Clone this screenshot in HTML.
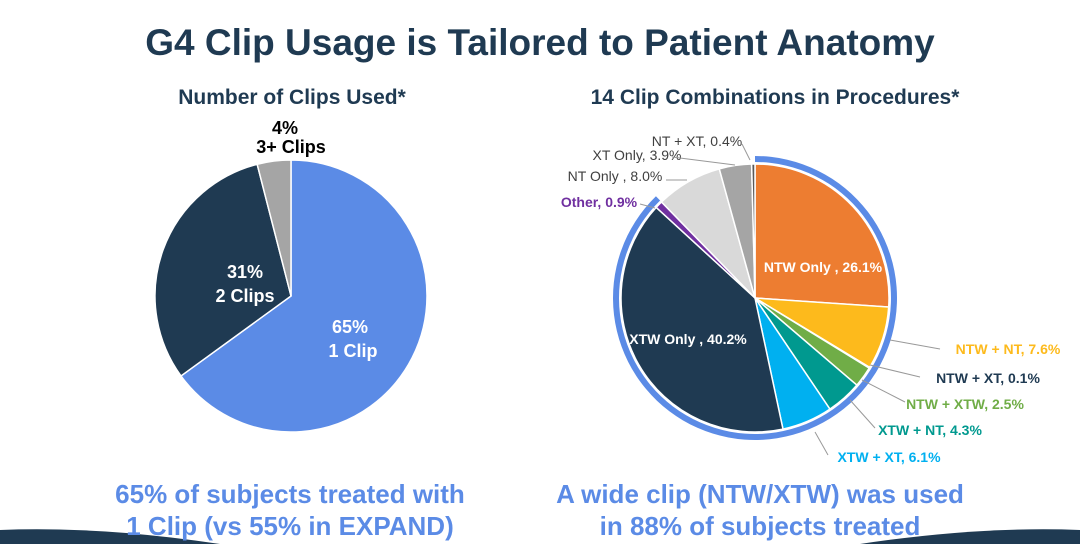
<!DOCTYPE html>
<html><head><meta charset="utf-8"><style>
body{margin:0;width:1080px;height:544px;background:#fff;overflow:hidden;font-family:"Liberation Sans",sans-serif;position:relative}
.t{position:absolute;white-space:nowrap}
</style></head><body>
<svg id="s" width="1080" height="544" style="position:absolute;left:0;top:0">
<path d="M0,544 L0,530 Q100,526 220,544Z" fill="#1F3A52"/>
<path d="M1080,544 L1080,530 Q980,526 860,544Z" fill="#1F3A52"/>
</svg>
<div class="t" style="left:0;width:1080px;top:22px;text-align:center;font-size:37px;font-weight:bold;color:#1F3A52">G4 Clip Usage is Tailored to Patient Anatomy</div>
<div class="t" style="left:92px;width:400px;top:86px;text-align:center;font-size:21px;font-weight:bold;color:#1F3A52">Number of Clips Used*</div>
<div class="t" style="left:555px;width:440px;top:86px;text-align:center;font-size:21px;font-weight:bold;color:#1F3A52">14 Clip Combinations in Procedures*</div>
<div class="t" style="left:0;width:580px;top:478px;text-align:center;font-size:26px;font-weight:bold;color:#5B8BE6;line-height:32px">65% of subjects treated with<br>1 Clip (vs 55% in EXPAND)</div>
<div class="t" style="left:500px;width:520px;top:478px;text-align:center;font-size:26px;font-weight:bold;color:#5B8BE6;line-height:32px">A wide clip (NTW/XTW) was used<br>in 88% of subjects treated</div>
<script>
var s=document.getElementById('s'),NS='http://www.w3.org/2000/svg';
function el(n,a,txt){var e=document.createElementNS(NS,n);for(var k in a)e.setAttribute(k,a[k]);if(txt)e.textContent=txt;s.appendChild(e);return e}
function pt(cx,cy,r,f){var a=f*2*Math.PI;return[cx+r*Math.sin(a),cy-r*Math.cos(a)]}
function pie(cx,cy,r,data){var c=0,tot=data.reduce((a,b)=>a+b[0],0);data.forEach(d=>{var f0=c/tot,f1=(c+d[0])/tot;c+=d[0];var p0=pt(cx,cy,r,f0),p1=pt(cx,cy,r,f1);el('path',{d:'M'+cx+','+cy+'L'+p0+'A'+r+','+r+' 0 '+((f1-f0)>.5?1:0)+' 1 '+p1+'Z',fill:d[1],stroke:'#fff','stroke-width':1.5})})}
pie(291,296,136,[[65,'#5B8BE6'],[31,'#1F3A52'],[4,'#A5A5A5']]);
var cx=755,cy=298,R=142,f=87.8/100.1,p1=pt(cx,cy,R,f);
el('path',{d:'M'+cx+','+cy+'L'+cx+','+(cy-R)+'A'+R+','+R+' 0 1 1 '+p1+'Z',fill:'#5B8BE6'});
var p2=pt(cx,cy,136,f);
el('path',{d:'M'+cx+','+cy+'L'+cx+','+(cy-136)+'A136,136 0 1 1 '+p2+'Z',fill:'#fff'});
pie(cx,cy,134,[[26.1,'#ED7D31'],[7.6,'#FDBA1C'],[0.1,'#1F3A52'],[2.5,'#70AD47'],[4.3,'#00998F'],[6.1,'#00B0F0'],[40.2,'#1F3A52'],[0.9,'#7030A0'],[8,'#D9D9D9'],[3.9,'#A5A5A5'],[0.4,'#595959']]);
function tx(x,y,t,c,sz,w,anc){el('text',{x:x,y:y,fill:c,'font-size':sz,'font-weight':w||'normal','text-anchor':anc||'middle','font-family':'Liberation Sans'},t)}
tx(285,134,'4%','#000',18,'bold');tx(291,153,'3+ Clips','#000',18,'bold');
tx(245,278,'31%','#fff',18,'bold');tx(245,302,'2 Clips','#fff',18,'bold');
tx(350,333,'65%','#fff',18,'bold');tx(353,357,'1 Clip','#fff',18,'bold');
tx(823,272,'NTW Only , 26.1%','#fff',14,'bold');
tx(688,344,'XTW Only , 40.2%','#fff',14,'bold');
var L=[[697,146,'NT + XT, 0.4%','#404040','normal',[[742,144],[750,160]]],[637,160,'XT Only, 3.9%','#404040','normal',[[672,157],[735,165]]],[615,181,'NT Only , 8.0%','#404040','normal',[[666,180],[687,180]]],[599,207,'Other, 0.9%','#7030A0','bold',[[640,204],[655,208]]],
[1008,354,'NTW + NT, 7.6%','#FDBA1C','bold',[[890,340],[940,349]]],[988,383,'NTW + XT, 0.1%','#1F3A52','bold',[[870,365],[920,377]]],[965,409,'NTW + XTW, 2.5%','#70AD47','bold',[[862,380],[905,402]]],[930,435,'XTW + NT, 4.3%','#00998F','bold',[[850,400],[875,428]]],[889,462,'XTW + XT, 6.1%','#00B0F0','bold',[[815,432],[828,455]]]];
L.forEach(l=>{tx(l[0],l[1],l[2],l[3],14,l[4]);el('polyline',{points:l[5].join(' '),fill:'none',stroke:'#999','stroke-width':1})});
</script>
</body></html>
